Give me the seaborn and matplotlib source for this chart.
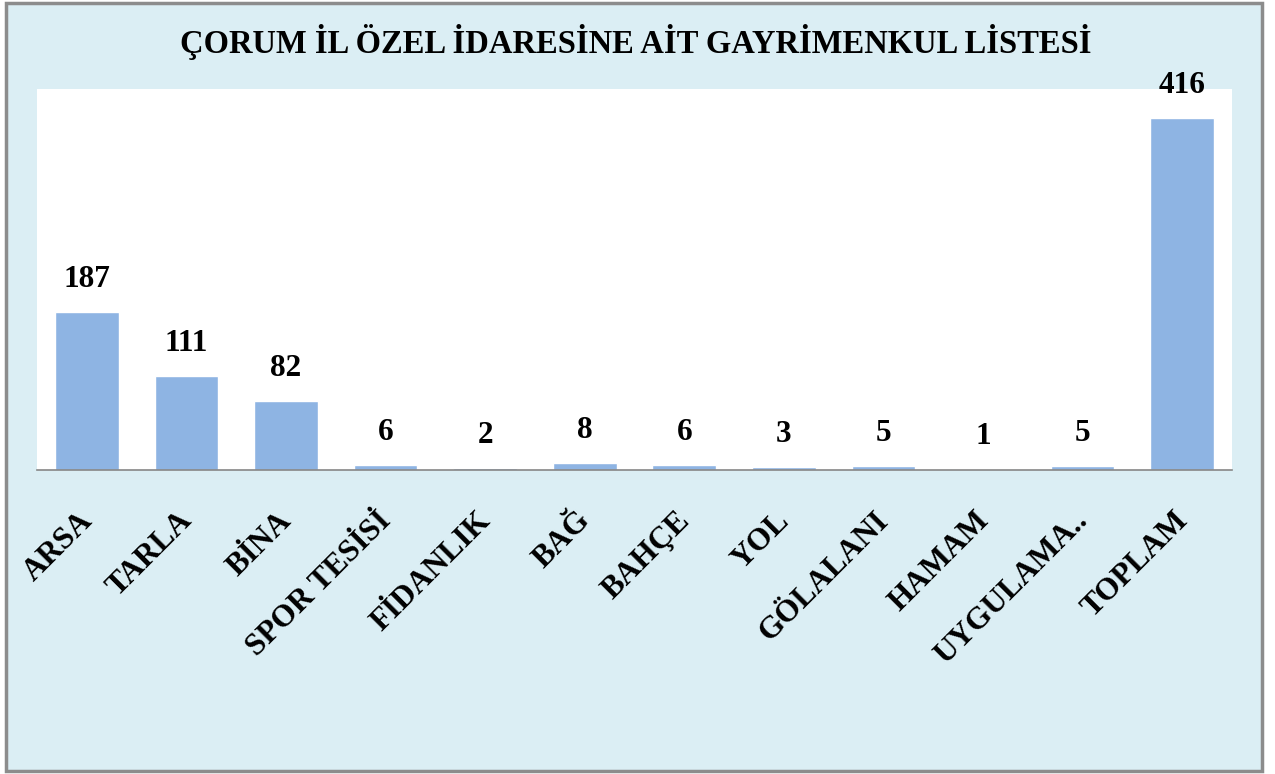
import numpy as np
import matplotlib
matplotlib.use("Agg")
import matplotlib.pyplot as plt
import matplotlib.transforms as mtransforms
from matplotlib.patches import Rectangle
import seaborn as sns

# data
categories = ["ARSA", "TARLA", "BİNA", "SPOR TESİSİ", "FİDANLIK", "BAĞ",
              "BAHÇE", "YOL", "GÖLALANI", "HAMAM", "UYGULAMA..", "TOPLAM"]
values = [187, 111, 82, 6, 2, 8, 6, 3, 5, 1, 5, 416]
title = "ÇORUM İL ÖZEL İDARESİNE AİT GAYRİMENKUL LİSTESİ"

bg_color = "#DBEEF4"
bar_color = "#8EB4E3"
font = "Liberation Serif"

sns.set_theme(style="white")
plt.rcParams["font.family"] = [font, "DejaVu Serif"]
plt.rcParams["text.color"] = "black"
plt.rcParams["xtick.color"] = "black"

fig = plt.figure(figsize=(12.75, 7.74), dpi=100)
fig.patch.set_facecolor("white")

# light blue chart area with a grey frame
W, H = 1275, 774
frame = Rectangle((6 / W, 3 / H), (1262 - 6) / W, (771 - 3) / H,
                  transform=fig.transFigure, facecolor=bg_color,
                  edgecolor="#8C8C8C", linewidth=2.5, zorder=-10)
fig.patches.append(frame)

ax = fig.add_axes([37 / W, (H - 470) / H, (1232 - 37) / W, (470 - 89) / H])
ax.set_facecolor("white")

sns.barplot(x=categories, y=values, color=bar_color, saturation=1,
            width=0.64, ax=ax)

ax.set_ylim(0, 450)
ax.set_xlim(-0.5, len(categories) - 0.5)
ax.set_yticks([])
ax.set_ylabel("")
for side in ["top", "left", "right"]:
    ax.spines[side].set_visible(False)
ax.spines["bottom"].set_color("#868686")
ax.spines["bottom"].set_linewidth(1.2)

# value labels above the bars
ax.bar_label(ax.containers[0], padding=13, fontsize=22.5, fontweight="bold",
             family=font, color="black")

# rotated category labels
ax.tick_params(axis="x", length=0, pad=26, labelcolor="black")
ax.set_xticks(range(len(categories)))
ax.set_xticklabels(categories, rotation=45, ha="right",
                   rotation_mode="anchor", fontsize=22.5, fontweight="bold",
                   family=font)
offset = mtransforms.ScaledTranslation(-9 / 100, 0, fig.dpi_scale_trans)
for lbl in ax.get_xticklabels():
    lbl.set_transform(lbl.get_transform() + offset)

fig.text(0.499, 1 - 42 / H, title, ha="center", va="center",
         fontsize=23.5, fontweight="bold", family=font, color="black")

fig.savefig("out.png", dpi=100, facecolor=fig.get_facecolor())
